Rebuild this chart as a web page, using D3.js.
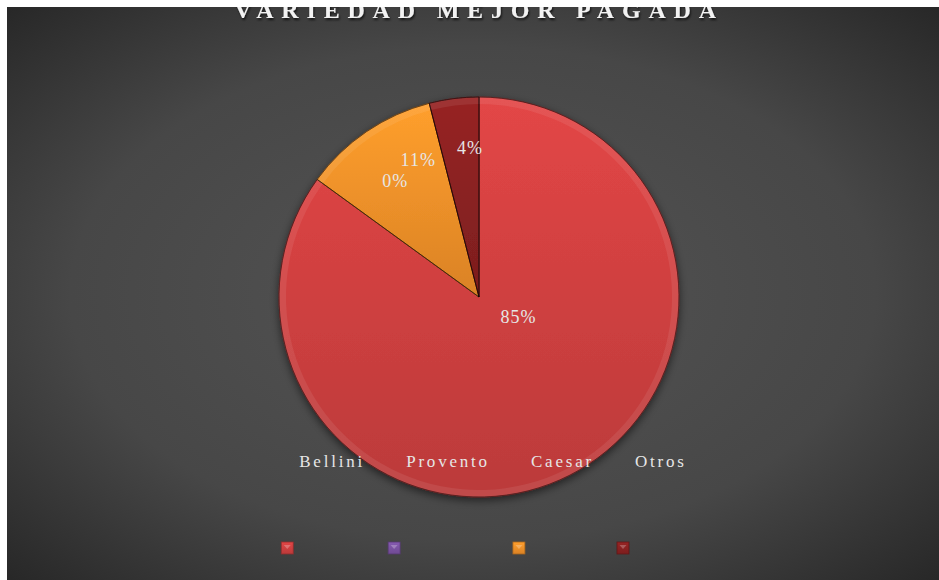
<!DOCTYPE html>
<html>
<head>
<meta charset="utf-8">
<script src="https://cdn.jsdelivr.net/npm/d3@7"></script>
<style>
  html, body { margin: 0; padding: 0; background: #ffffff; }
  svg { display: block; }
</style>
</head>
<body>
<div id="chart"></div>
<script>
// ----- data -----
const categories = ["Bellini", "Provento", "Caesar", "Otros"];
const shares = [85, 0, 11, 4];
const sliceColors = ["#d04040", "#7b52a3", "#f39129", "#8a2121"];
const titleText = "VARIEDAD MEJOR PAGADA";

const W = 939, H = 580;
const frame = { x: 7, y: 7, w: W - 7, h: H - 7 };
const cx = 479, cy = 297, radius = 200;

const svg = d3.select("#chart").append("svg")
  .attr("width", W)
  .attr("height", H);

const defs = svg.append("defs");

// background gradient
const bg = defs.append("radialGradient")
  .attr("id", "bgGrad")
  .attr("cx", "0.5").attr("cy", "0.5").attr("r", "0.72");
bg.append("stop").attr("offset", "0").attr("stop-color", "#545454");
bg.append("stop").attr("offset", "0.6").attr("stop-color", "#474747");
bg.append("stop").attr("offset", "1").attr("stop-color", "#262626");

defs.append("clipPath").attr("id", "frameClip")
  .append("rect")
  .attr("x", frame.x).attr("y", frame.y)
  .attr("width", frame.w).attr("height", frame.h);

const shadow = defs.append("filter").attr("id", "shadow")
  .attr("x", "-20%").attr("y", "-20%").attr("width", "140%").attr("height", "140%");
shadow.append("feDropShadow")
  .attr("dx", 0).attr("dy", 3).attr("stdDeviation", 4)
  .attr("flood-color", "#000").attr("flood-opacity", 0.55);

const txtShadow = defs.append("filter").attr("id", "txtShadow");
txtShadow.append("feDropShadow")
  .attr("dx", 1).attr("dy", 2).attr("stdDeviation", 1.2)
  .attr("flood-color", "#000").attr("flood-opacity", 0.7);

// slice gradients: lighter top, darker bottom
sliceColors.forEach((c, i) => {
  const g = defs.append("linearGradient")
    .attr("id", "slice" + i)
    .attr("x1", 0).attr("y1", 0).attr("x2", 0).attr("y2", 1);
  g.append("stop").attr("offset", 0).attr("stop-color", d3.color(c).brighter(0.25));
  g.append("stop").attr("offset", 1).attr("stop-color", d3.color(c).darker(0.3));
});

const root = svg.append("g").attr("clip-path", "url(#frameClip)");

root.append("rect")
  .attr("x", frame.x).attr("y", frame.y)
  .attr("width", frame.w).attr("height", frame.h)
  .attr("fill", "url(#bgGrad)");

// title (partly cut by the frame, as in the picture)
root.append("text")
  .attr("x", cx)
  .attr("y", 17.5)
  .attr("text-anchor", "middle")
  .attr("font-family", "'Liberation Serif', 'Times New Roman', serif")
  .attr("font-weight", "bold")
  .attr("font-size", 24)
  .attr("letter-spacing", 7.8)
  .attr("fill", "#f2f2f2")
  .attr("filter", "url(#txtShadow)")
  .text(titleText);

// ----- pie -----
const data = categories.map((name, i) => ({ name, value: shares[i], i }));

const pie = d3.pie()
  .value(d => d.value)
  .sort(null);

const arcs = pie(data);

const arc = d3.arc().innerRadius(0).outerRadius(radius);
const rim = d3.arc().innerRadius(radius - 7).outerRadius(radius);

const pieG = root.append("g")
  .attr("transform", `translate(${cx},${cy})`);

const sliceG = pieG.append("g").attr("filter", "url(#shadow)");

sliceG.selectAll("path.slice")
  .data(arcs.filter(d => d.value > 0))
  .enter().append("path")
  .attr("class", "slice")
  .attr("d", arc)
  .attr("fill", d => `url(#slice${d.data.i})`)
  .attr("stroke", d => d3.color(sliceColors[d.data.i]).darker(1.2))
  .attr("stroke-width", 1);

// bevel rim highlight
pieG.selectAll("path.rim")
  .data(arcs.filter(d => d.value > 0))
  .enter().append("path")
  .attr("class", "rim")
  .attr("d", rim)
  .attr("fill", "#ffffff")
  .attr("fill-opacity", 0.08);

// thin dark edge between slices
pieG.selectAll("path.edge")
  .data(arcs.filter(d => d.value > 0))
  .enter().append("path")
  .attr("class", "edge")
  .attr("d", arc)
  .attr("fill", "none")
  .attr("stroke", "#000")
  .attr("stroke-opacity", 0.35)
  .attr("stroke-width", 1);

// ----- data labels -----
const labelFont = "'Liberation Serif', 'Times New Roman', serif";
const labelR = radius * 0.75;
const pos = arcs.map(d => {
  let a, r;
  if (d.endAngle - d.startAngle > Math.PI) {
    a = d.startAngle + 0.38 * (d.endAngle - d.startAngle);
    r = radius * 0.22;
  } else {
    a = d.startAngle + 0.76 * (d.endAngle - d.startAngle);
    r = labelR;
  }
  return [r * Math.sin(a), -r * Math.cos(a)];
});
// zero-size slice: tuck its label just below the next one
arcs.forEach((d, i) => {
  if (d.value === 0 && i + 1 < arcs.length) {
    pos[i] = [pos[i + 1][0] - 23, pos[i + 1][1] + 21];
  }
});

pieG.selectAll("text.pct")
  .data(arcs)
  .enter().append("text")
  .attr("class", "pct")
  .attr("x", (d, i) => pos[i][0])
  .attr("y", (d, i) => pos[i][1])
  .attr("dy", "0.35em")
  .attr("text-anchor", "middle")
  .attr("font-family", labelFont)
  .attr("font-size", 18)
  .attr("letter-spacing", 1)
  .attr("fill", "#e6e6e6")
  .text(d => Math.round(d.data.value) + "%");

// ----- legend -----
const legend = root.append("g");
const items = legend.selectAll("g.item")
  .data(data)
  .enter().append("g")
  .attr("class", "item");

items.append("rect")
  .attr("width", 12).attr("height", 12)
  .attr("y", 542)
  .attr("fill", d => `url(#slice${d.i})`)
  .attr("stroke", d => d3.color(sliceColors[d.i]).darker(1))
  .attr("stroke-width", 0.8);

items.append("path")
  .attr("d", "M2.5,3 L9.5,3 L6,7 Z")
  .attr("transform", "translate(0,542)")
  .attr("fill", "#ffffff")
  .attr("fill-opacity", 0.25);

items.append("text")
  .attr("x", 18)
  .attr("y", 467)
  .attr("font-family", labelFont)
  .attr("font-size", 17)
  .attr("letter-spacing", 2.8)
  .attr("fill", "#e6e6e6")
  .text(d => d.name);

// sequential layout of legend entries, centred under the pie
const gap = 23;
let xOff = 0;
const offsets = [];
items.each(function() {
  offsets.push(xOff);
  const tw = d3.select(this).select("text").node().getComputedTextLength();
  xOff += 18 + tw + gap;
});
const totalW = xOff - gap;
const startX = 484 - totalW / 2;
items.attr("transform", (d, i) => `translate(${startX + offsets[i]},0)`);
</script>
</body>
</html>
